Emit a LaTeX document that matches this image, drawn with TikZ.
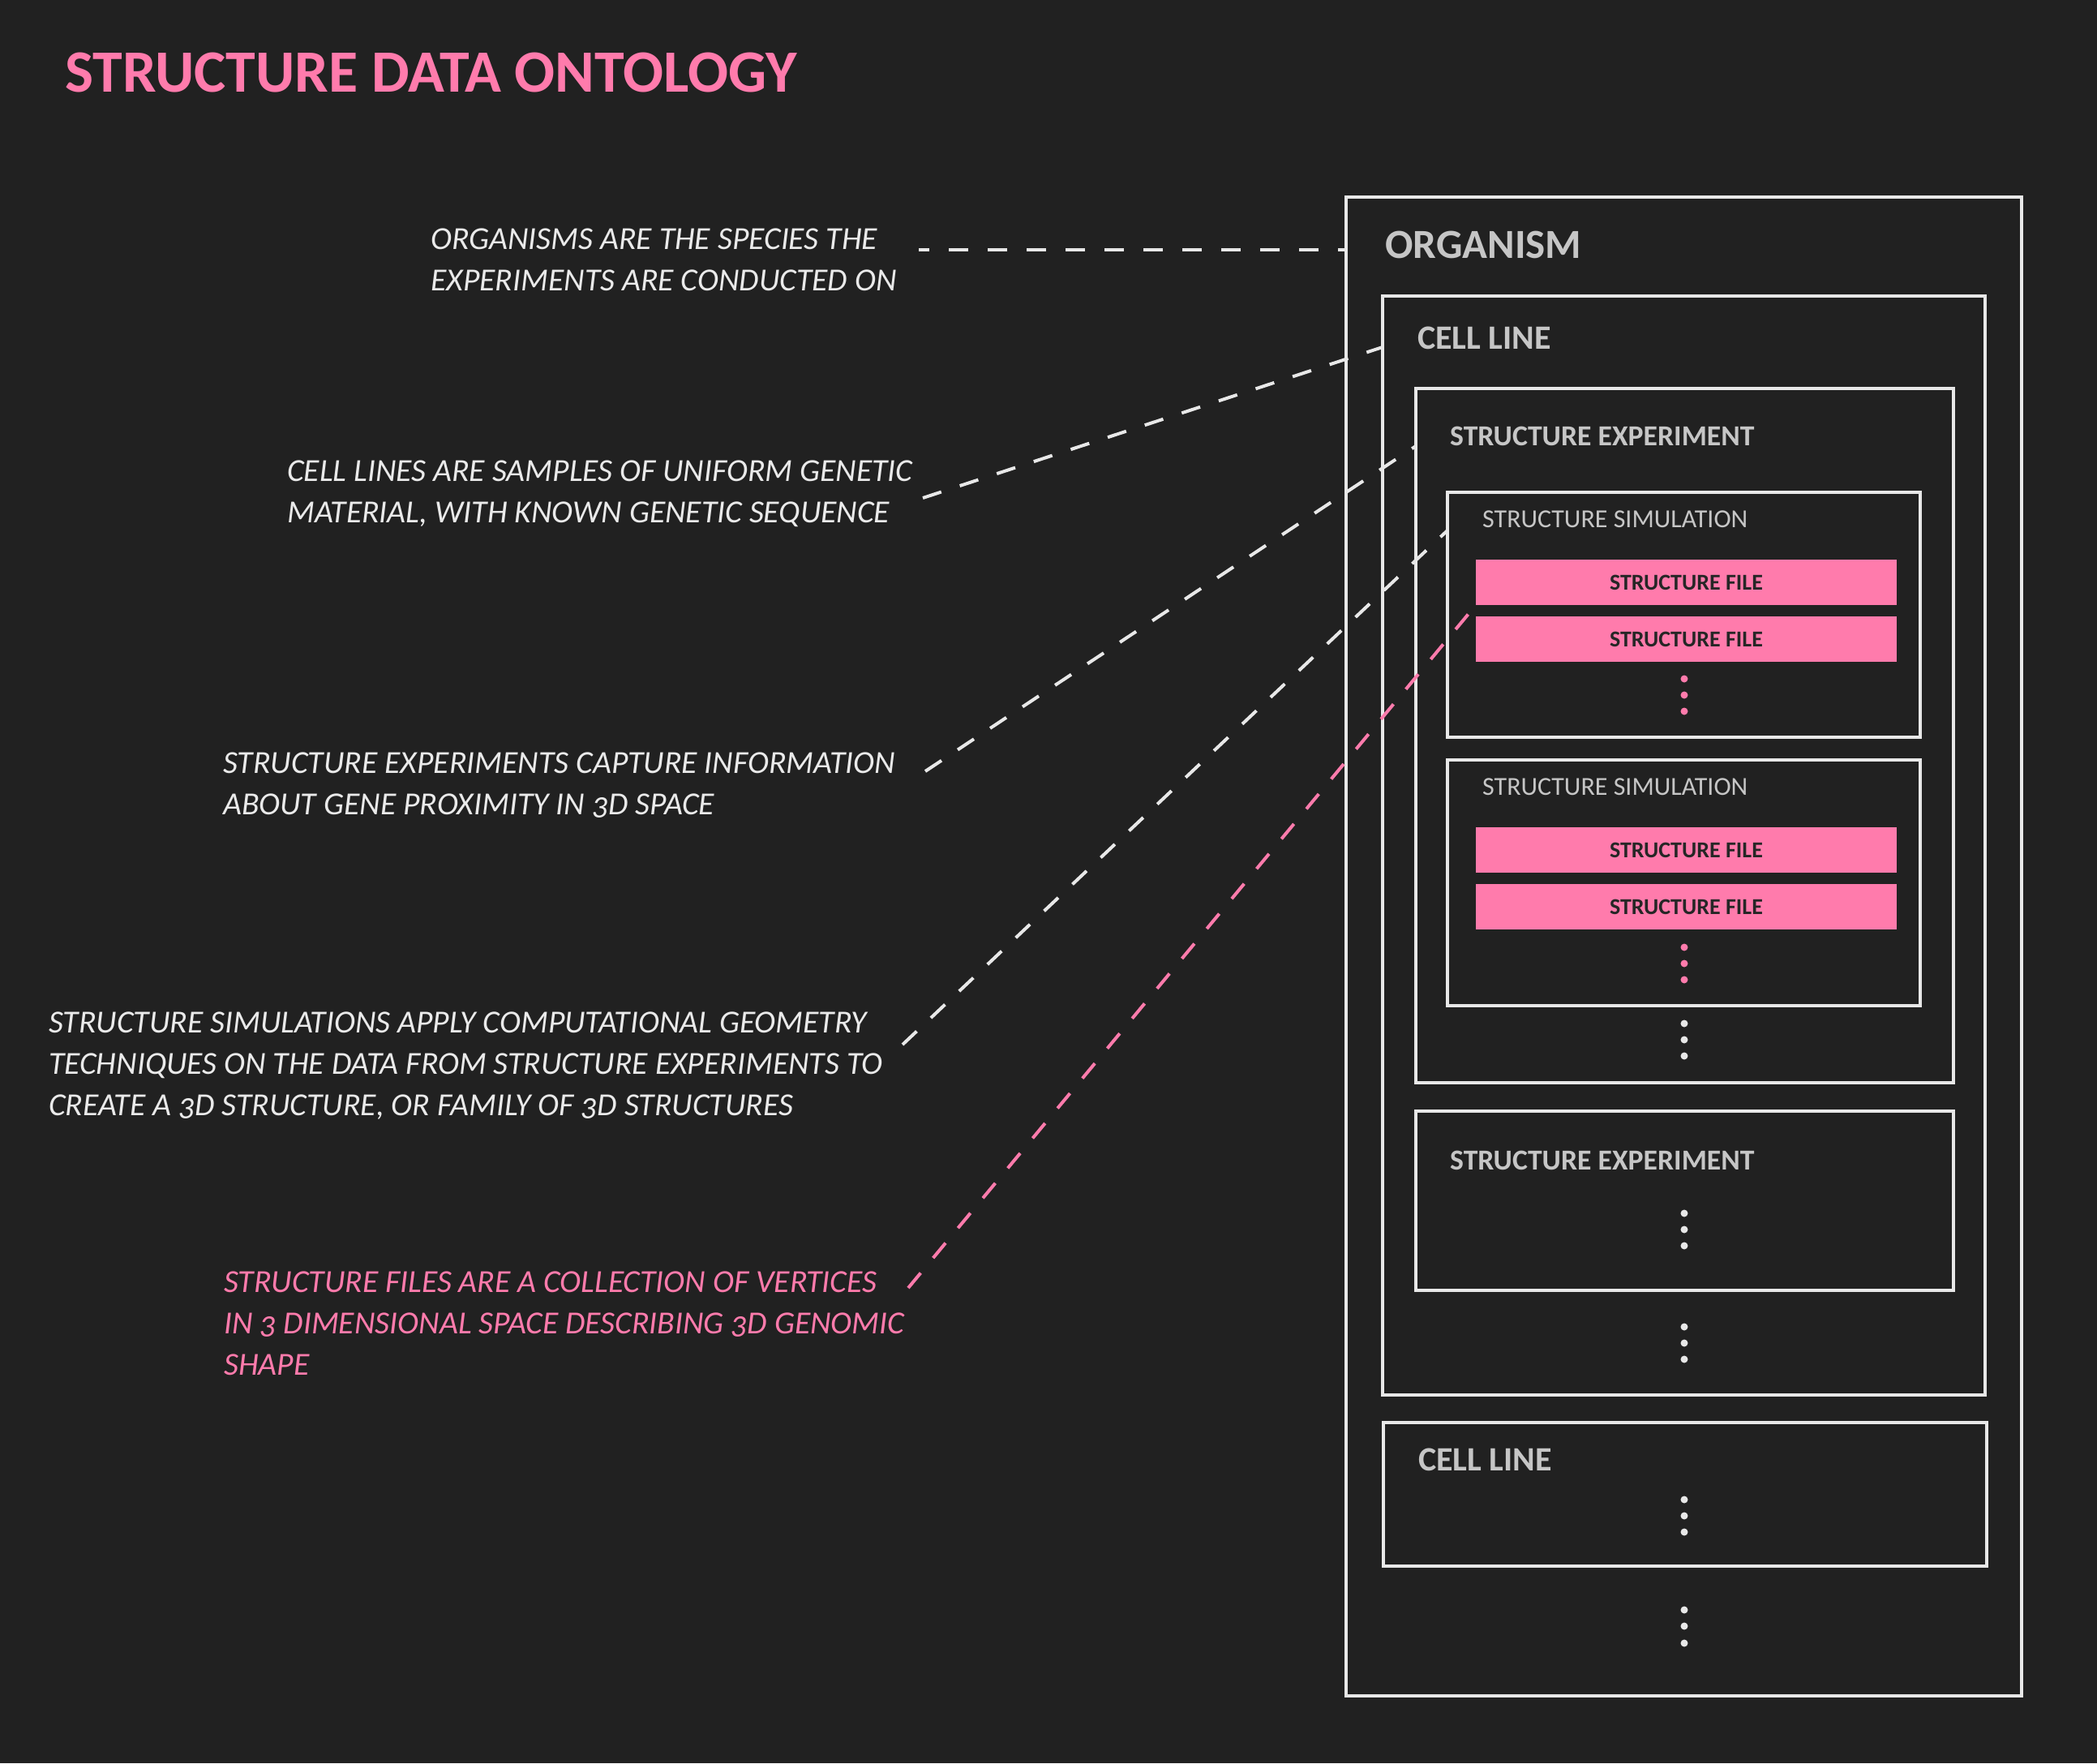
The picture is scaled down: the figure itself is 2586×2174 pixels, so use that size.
\documentclass[tikz,border=0pt]{standalone}
\usepackage{fontspec}
\setmainfont{Carlito}[Numbers=OldStyle]
\usetikzlibrary{calc}
\definecolor{bgc}{HTML}{212121}
\definecolor{linec}{HTML}{E8E8E8}
\definecolor{labc}{HTML}{C6C6C6}
\definecolor{pinkc}{HTML}{FF7BAC}
\definecolor{filetc}{HTML}{262626}
\definecolor{txtc}{HTML}{EAEAEA}
\tikzset{
  box/.style={draw=linec, line width=4pt, inner sep=0pt, outer sep=0pt, anchor=north west},
  filebox/.style={fill=pinkc, inner sep=0pt, outer sep=0pt, anchor=north west,
    minimum width=519pt, minimum height=56pt, text=filetc, font=\fontsize{28}{30}\selectfont\bfseries},
  lab/.style={text=labc, inner sep=0pt, anchor=base west},
  note/.style={text=txtc, inner sep=0pt, anchor=north west, align=left,
    font=\fontsize{39.6}{51}\selectfont\itshape},
  dline/.style={draw=linec, line width=4pt, dash pattern=on 24pt off 24pt},
  pline/.style={draw=pinkc, line width=4pt, dash pattern=on 24pt off 24pt},
}
\newcommand{\firstline}{\rule{0pt}{30pt}}
\begin{document}
\begin{tikzpicture}[x=1pt,y=-1pt]
\fill[bgc] (0,0) rectangle (2586,2174);
\useasboundingbox (0,0) rectangle (2586,2174);

% title
\node[text=pinkc, inner sep=0pt, anchor=base west, font=\fontsize{74}{80}\selectfont\bfseries] (title) at (80,113) {STRUCTURE DATA ONTOLOGY};

% boxes
\node[box, minimum width=833pt, minimum height=1848pt] (org) at (1660,243) {};
\node[box, minimum width=743pt, minimum height=1355pt] (cell1) at (1705,365) {};
\node[box, minimum width=663pt, minimum height=856pt] (exp1) at (1746,479) {};
\node[box, minimum width=583pt, minimum height=302pt] (sim1) at (1785,607) {};
\node[box, minimum width=583pt, minimum height=303pt] (sim2) at (1785,937) {};
\node[box, minimum width=663pt, minimum height=221pt] (exp2) at (1746,1370) {};
\node[box, minimum width=744pt, minimum height=177pt] (cell2) at (1706,1754) {};

% files
\node[filebox] (f1) at (1820,690) {STRUCTURE FILE};
\node[filebox] (f2) at (1820,760) {STRUCTURE FILE};
\node[filebox] (f3) at (1820,1020) {STRUCTURE FILE};
\node[filebox] (f4) at (1820,1090) {STRUCTURE FILE};

% labels
\node[lab, font=\fontsize{51}{56}\selectfont\bfseries] (orglab) at (1708,318) {ORGANISM};
\node[lab, font=\fontsize{42}{46}\selectfont\bfseries] (cell1lab) at (1748,430) {CELL LINE};
\node[lab, font=\fontsize{35.7}{40}\selectfont\bfseries] (exp1lab) at (1788,549) {STRUCTURE EXPERIMENT};
\node[lab, font=\fontsize{32}{36}\selectfont] (sim1lab) at (1828,650) {STRUCTURE SIMULATION};
\node[lab, font=\fontsize{32}{36}\selectfont] (sim2lab) at (1828,980) {STRUCTURE SIMULATION};
\node[lab, font=\fontsize{35.7}{40}\selectfont\bfseries] (exp2lab) at (1788,1442) {STRUCTURE EXPERIMENT};
\node[lab, font=\fontsize{42}{46}\selectfont\bfseries] (cell2lab) at (1749,1813) {CELL LINE};

% dots
\foreach \yy in {837,857,877,1168,1188,1208} \fill[pinkc] (2077,\yy) circle (4.5);
\foreach \yy in {1262,1282,1302,1496,1516,1536,1636,1656,1676,1849,1869,1889,1985,2005,2026} \fill[linec] (2077,\yy) circle (4.5);

% notes
\node[note] (t1) at (531,277) {\firstline ORGANISMS ARE THE SPECIES THE\\EXPERIMENTS ARE CONDUCTED ON};
\node[note] (t2) at (354,563) {\firstline CELL LINES ARE SAMPLES OF UNIFORM GENETIC\\MATERIAL, WITH KNOWN GENETIC SEQUENCE};
\node[note] (t3) at (275,923) {\firstline STRUCTURE EXPERIMENTS CAPTURE INFORMATION\\ABOUT GENE PROXIMITY IN 3D SPACE};
\node[note] (t4) at (60,1243) {\firstline STRUCTURE SIMULATIONS APPLY COMPUTATIONAL GEOMETRY\\TECHNIQUES ON THE DATA FROM STRUCTURE EXPERIMENTS TO\\CREATE A 3D STRUCTURE, OR FAMILY OF 3D STRUCTURES};
\node[note, text=pinkc] (t5) at (276,1563) {\firstline STRUCTURE FILES ARE A COLLECTION OF VERTICES\\IN 3 DIMENSIONAL SPACE DESCRIBING 3D GENOMIC\\SHAPE};

% connectors
\coordinate (s1) at (1133,308);
\coordinate (s2) at (1138,614);
\coordinate (s3) at (1141,951);
\coordinate (s4) at (1113,1288);
\coordinate (s5) at (1120,1588);
\draw[dline, dash phase=11pt] (s1) -- (org.west |- s1);
\draw[dline] (s2) -- ($(cell1.north west)+(0,63)$);
\draw[dline] (s3) -- ($(exp1.north west)+(0,71)$);
\draw[dline] (s4) -- ($(sim1.north west)+(0,47)$);
\draw[pline] (s5) -- (f1.south west);
\end{tikzpicture}
\end{document}
